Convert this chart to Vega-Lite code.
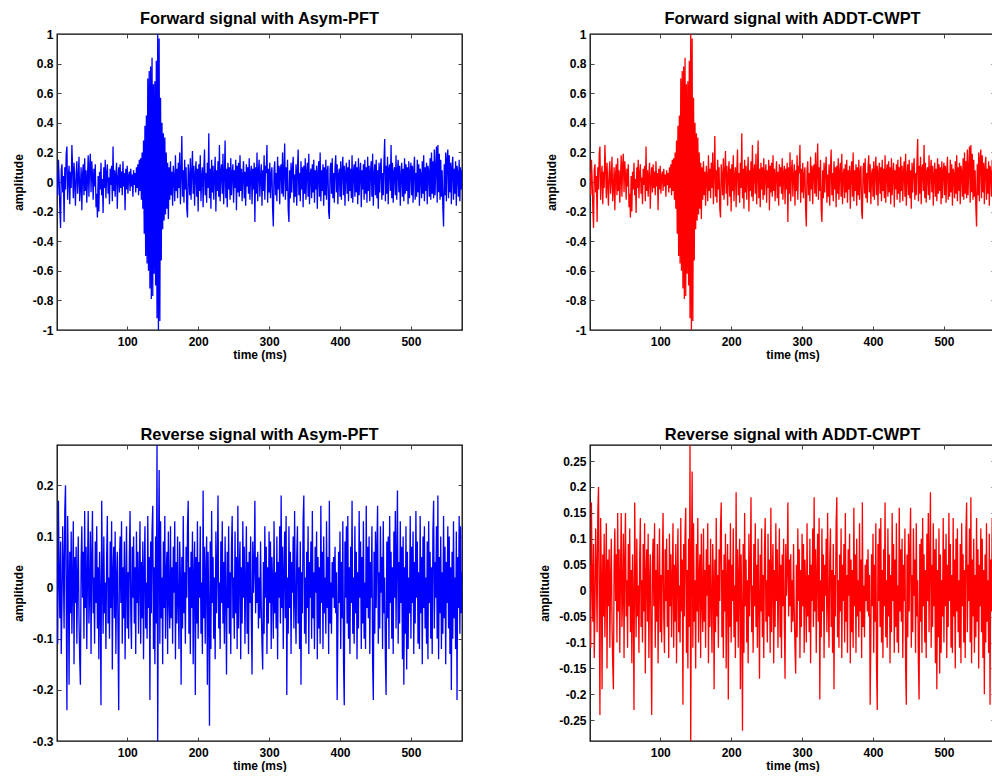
{
"$schema":"https://vega.github.io/schema/vega-lite/v6.json",
"padding":{"left":11,"top":9,"right":0,"bottom":0},
"background":"white",
"data":{"values":[
{"t":1,"f":0.06,"r":0.05},{"t":2,"f":-0.09,"r":-0.11},{"t":3,"f":0.15,"r":0.17},{"t":4,"f":0.02,"r":0.02},{"t":5,"f":-0.18,"r":-0.06},{"t":6,"f":-0.31,"r":0.09},{"t":7,"f":0.08,"r":-0.13},{"t":8,"f":0.12,"r":-0.03},{"t":9,"f":-0.07,"r":0.12},{"t":10,"f":0.04,"r":0.04},
{"t":11,"f":-0.27,"r":-0.08},{"t":12,"f":0.1,"r":0.15},{"t":13,"f":-0.05,"r":0.2},{"t":14,"f":0.19,"r":-0.02},{"t":15,"f":0.24,"r":-0.24},{"t":16,"f":-0.12,"r":0.14},{"t":17,"f":0.03,"r":0.03},{"t":18,"f":0.11,"r":-0.19},{"t":19,"f":-0.15,"r":0.07},{"t":20,"f":0.07,"r":-0.05},
{"t":21,"f":-0.04,"r":0.11},{"t":22,"f":0.25,"r":-0.09},{"t":23,"f":0.09,"r":0.01},{"t":24,"f":-0.11,"r":0.13},{"t":25,"f":0.13,"r":-0.15},{"t":26,"f":-0.02,"r":0.06},{"t":27,"f":-0.16,"r":-0.03},{"t":28,"f":0.06,"r":0.08},{"t":29,"f":0.14,"r":-0.11},{"t":30,"f":-0.08,"r":0.02},
{"t":31,"f":0.02,"r":0.1},{"t":32,"f":0.17,"r":-0.06},{"t":33,"f":-0.13,"r":-0.14},{"t":34,"f":-0.04,"r":-0.19},{"t":35,"f":0.1,"r":0.05},{"t":36,"f":-0.19,"r":0.12},{"t":37,"f":0.05,"r":-0.02},{"t":38,"f":0.12,"r":0.07},{"t":39,"f":-0.09,"r":-0.1},{"t":40,"f":0.16,"r":0.15},
{"t":41,"f":-0.06,"r":-0.04},{"t":42,"f":0.08,"r":0.08},{"t":43,"f":-0.14,"r":-0.12},{"t":44,"f":0.03,"r":0.03},{"t":45,"f":0.18,"r":0.15},{"t":46,"f":-0.1,"r":-0.07},{"t":47,"f":0.11,"r":-0.01},{"t":48,"f":0.19,"r":0.11},{"t":49,"f":-0.07,"r":-0.13},{"t":50,"f":0.14,"r":0.06},
{"t":51,"f":0.05,"r":0.15},{"t":52,"f":-0.12,"r":-0.05},{"t":53,"f":0.09,"r":0.02},{"t":54,"f":-0.03,"r":-0.11},{"t":55,"f":0.12,"r":0.09},{"t":56,"f":-0.17,"r":-0.03},{"t":57,"f":-0.08,"r":0.12},{"t":58,"f":-0.24,"r":-0.08},{"t":59,"f":0.04,"r":0.04},{"t":60,"f":-0.2,"r":-0.14},
{"t":61,"f":0.07,"r":0.07},{"t":62,"f":-0.05,"r":-0.02},{"t":63,"f":0.13,"r":-0.23},{"t":64,"f":-0.09,"r":0.17},{"t":65,"f":0.02,"r":0.03},{"t":66,"f":-0.21,"r":-0.09},{"t":67,"f":0.1,"r":0.1},{"t":68,"f":-0.04,"r":-0.05},{"t":69,"f":0.15,"r":0.01},{"t":70,"f":-0.11,"r":-0.12},
{"t":71,"f":0.06,"r":0.06},{"t":72,"f":0.12,"r":0.14},{"t":73,"f":-0.08,"r":-0.07},{"t":74,"f":0.03,"r":0.02},{"t":75,"f":-0.15,"r":-0.1},{"t":76,"f":0.09,"r":0.09},{"t":77,"f":-0.02,"r":-0.04},{"t":78,"f":0.11,"r":0.13},{"t":79,"f":-0.13,"r":-0.16},{"t":80,"f":0.24,"r":0.03},
{"t":81,"f":-0.06,"r":0.08},{"t":82,"f":0.08,"r":-0.06},{"t":83,"f":-0.1,"r":0.11},{"t":84,"f":0.05,"r":-0.13},{"t":85,"f":0.13,"r":0.02},{"t":86,"f":-0.18,"r":0.07},{"t":87,"f":0.02,"r":-0.09},{"t":88,"f":0.1,"r":-0.24},{"t":89,"f":-0.07,"r":0.05},{"t":90,"f":0.12,"r":0.1},
{"t":91,"f":-0.04,"r":-0.03},{"t":92,"f":0.07,"r":0.13},{"t":93,"f":-0.09,"r":-0.11},{"t":94,"f":0.14,"r":0.04},{"t":95,"f":-0.03,"r":-0.06},{"t":96,"f":0.06,"r":0.09},{"t":97,"f":-0.19,"r":-0.14},{"t":98,"f":0.09,"r":0.01},{"t":99,"f":-0.05,"r":0.12},{"t":100,"f":0.11,"r":-0.08},
{"t":101,"f":-0.08,"r":0.03},{"t":102,"f":0.04,"r":-0.1},{"t":103,"f":0.07,"r":0.06},{"t":104,"f":-0.06,"r":0.15},{"t":105,"f":0.09,"r":-0.05},{"t":106,"f":-0.03,"r":-0.12},{"t":107,"f":0.05,"r":0.08},{"t":108,"f":-0.1,"r":-0.02},{"t":109,"f":0.08,"r":0.1},{"t":110,"f":-0.02,"r":-0.07},
{"t":111,"f":0.06,"r":0.04},{"t":112,"f":-0.07,"r":-0.13},{"t":113,"f":0.1,"r":0.11},{"t":114,"f":-0.04,"r":-0.03},{"t":115,"f":0.12,"r":0.07},{"t":116,"f":-0.09,"r":-0.09},{"t":117,"f":0.15,"r":0.02},{"t":118,"f":-0.06,"r":0.13},{"t":119,"f":0.16,"r":-0.11},{"t":120,"f":-0.12,"r":0.05},
{"t":121,"f":0.2,"r":-0.06},{"t":122,"f":-0.18,"r":0.09},{"t":123,"f":0.28,"r":-0.14},{"t":124,"f":-0.35,"r":0.03},{"t":125,"f":0.38,"r":0.12},{"t":126,"f":-0.5,"r":-0.08},{"t":127,"f":0.45,"r":0.01},{"t":128,"f":-0.55,"r":-0.1},{"t":129,"f":0.7,"r":0.14},{"t":130,"f":-0.6,"r":-0.04},
{"t":131,"f":0.75,"r":0.06},{"t":132,"f":-0.72,"r":-0.22},{"t":133,"f":0.78,"r":0.09},{"t":134,"f":-0.79,"r":-0.05},{"t":135,"f":0.84,"r":0.11},{"t":136,"f":-0.77,"r":0.16},{"t":137,"f":0.66,"r":-0.12},{"t":138,"f":-0.62,"r":0.04},{"t":139,"f":0.68,"r":-0.15},{"t":140,"f":-0.7,"r":0.1},
{"t":141,"f":0.82,"r":-0.07},{"t":142,"f":-0.92,"r":0.28},{"t":143,"f":1.0,"r":-0.3},{"t":144,"f":-1.0,"r":0.05},{"t":145,"f":0.97,"r":0.23},{"t":146,"f":-0.94,"r":-0.11},{"t":147,"f":0.57,"r":0.13},{"t":148,"f":-0.53,"r":-0.06},{"t":149,"f":0.4,"r":0.02},{"t":150,"f":-0.32,"r":-0.15},
{"t":151,"f":0.33,"r":0.09},{"t":152,"f":-0.26,"r":-0.04},{"t":153,"f":0.3,"r":0.14},{"t":154,"f":-0.22,"r":-0.1},{"t":155,"f":0.2,"r":0.03},{"t":156,"f":-0.18,"r":0.07},{"t":157,"f":0.13,"r":-0.13},{"t":158,"f":-0.25,"r":0.11},{"t":159,"f":0.1,"r":-0.02},{"t":160,"f":-0.12,"r":-0.08},
{"t":161,"f":0.14,"r":0.12},{"t":162,"f":-0.09,"r":-0.06},{"t":163,"f":0.07,"r":0.04},{"t":164,"f":-0.16,"r":-0.11},{"t":165,"f":0.11,"r":0.08},{"t":166,"f":0.03,"r":-0.01},{"t":167,"f":-0.13,"r":0.13},{"t":168,"f":0.18,"r":-0.14},{"t":169,"f":-0.06,"r":0.05},{"t":170,"f":0.09,"r":-0.07},
{"t":171,"f":-0.11,"r":0.1},{"t":172,"f":0.13,"r":-0.03},{"t":173,"f":-0.04,"r":-0.12},{"t":174,"f":0.2,"r":0.09},{"t":175,"f":-0.15,"r":0.02},{"t":176,"f":0.06,"r":-0.19},{"t":177,"f":0.31,"r":0.06},{"t":178,"f":-0.1,"r":-0.08},{"t":179,"f":0.08,"r":0.14},{"t":180,"f":-0.14,"r":-0.05},
{"t":181,"f":0.15,"r":0.03},{"t":182,"f":-0.05,"r":-0.11},{"t":183,"f":0.1,"r":0.08},{"t":184,"f":-0.18,"r":-0.02},{"t":185,"f":-0.24,"r":0.12},{"t":186,"f":0.12,"r":0.17},{"t":187,"f":0.04,"r":-0.09},{"t":188,"f":-0.09,"r":0.04},{"t":189,"f":0.16,"r":-0.13},{"t":190,"f":-0.12,"r":0.07},
{"t":191,"f":0.07,"r":-0.04},{"t":192,"f":0.21,"r":0.11},{"t":193,"f":-0.08,"r":-0.15},{"t":194,"f":0.11,"r":0.02},{"t":195,"f":-0.16,"r":0.09},{"t":196,"f":0.05,"r":-0.21},{"t":197,"f":0.14,"r":0.06},{"t":198,"f":-0.1,"r":-0.07},{"t":199,"f":0.09,"r":0.13},{"t":200,"f":-0.2,"r":-0.1},
{"t":201,"f":0.12,"r":0.05},{"t":202,"f":-0.06,"r":-0.02},{"t":203,"f":0.18,"r":0.12},{"t":204,"f":-0.13,"r":-0.09},{"t":205,"f":0.04,"r":0.01},{"t":206,"f":0.1,"r":-0.13},{"t":207,"f":-0.17,"r":0.19},{"t":208,"f":0.08,"r":-0.06},{"t":209,"f":0.22,"r":0.08},{"t":210,"f":-0.09,"r":-0.11},
{"t":211,"f":0.06,"r":0.03},{"t":212,"f":-0.14,"r":0.1},{"t":213,"f":0.13,"r":-0.19},{"t":214,"f":-0.04,"r":0.07},{"t":215,"f":0.33,"r":-0.04},{"t":216,"f":-0.11,"r":-0.27},{"t":217,"f":0.09,"r":0.09},{"t":218,"f":-0.18,"r":-0.12},{"t":219,"f":0.15,"r":0.15},{"t":220,"f":-0.07,"r":-0.03},
{"t":221,"f":0.11,"r":0.06},{"t":222,"f":-0.12,"r":-0.1},{"t":223,"f":0.05,"r":0.02},{"t":224,"f":0.17,"r":-0.14},{"t":225,"f":-0.2,"r":0.11},{"t":226,"f":0.08,"r":-0.05},{"t":227,"f":-0.06,"r":0.04},{"t":228,"f":0.14,"r":0.18},{"t":229,"f":-0.1,"r":-0.08},{"t":230,"f":0.25,"r":0.01},
{"t":231,"f":-0.13,"r":-0.12},{"t":232,"f":0.07,"r":0.09},{"t":233,"f":0.12,"r":-0.03},{"t":234,"f":-0.08,"r":0.13},{"t":235,"f":0.19,"r":-0.07},{"t":236,"f":-0.15,"r":0.05},{"t":237,"f":0.04,"r":-0.11},{"t":238,"f":0.28,"r":0.1},{"t":239,"f":-0.11,"r":-0.02},{"t":240,"f":0.09,"r":-0.17},
{"t":241,"f":-0.17,"r":0.07},{"t":242,"f":0.13,"r":-0.04},{"t":243,"f":-0.05,"r":0.12},{"t":244,"f":0.1,"r":-0.09},{"t":245,"f":-0.12,"r":0.03},{"t":246,"f":0.16,"r":-0.13},{"t":247,"f":-0.09,"r":0.08},{"t":248,"f":0.06,"r":0.14},{"t":249,"f":0.12,"r":-0.06},{"t":250,"f":-0.14,"r":0.02},
{"t":251,"f":0.08,"r":-0.1},{"t":252,"f":-0.04,"r":0.11},{"t":253,"f":0.15,"r":-0.05},{"t":254,"f":-0.19,"r":0.06},{"t":255,"f":0.11,"r":-0.12},{"t":256,"f":-0.07,"r":0.16},{"t":257,"f":0.13,"r":-0.08},{"t":258,"f":-0.1,"r":0.03},{"t":259,"f":0.18,"r":0.09},{"t":260,"f":-0.06,"r":-0.14},
{"t":261,"f":0.09,"r":0.04},{"t":262,"f":-0.13,"r":-0.07},{"t":263,"f":0.05,"r":0.13},{"t":264,"f":0.14,"r":-0.02},{"t":265,"f":-0.11,"r":0.08},{"t":266,"f":0.07,"r":-0.11},{"t":267,"f":-0.16,"r":0.01},{"t":268,"f":0.12,"r":0.12},{"t":269,"f":-0.03,"r":-0.09},{"t":270,"f":0.1,"r":0.05},
{"t":271,"f":-0.08,"r":-0.13},{"t":272,"f":0.16,"r":0.07},{"t":273,"f":-0.12,"r":-0.03},{"t":274,"f":0.06,"r":0.1},{"t":275,"f":0.11,"r":-0.06},{"t":276,"f":-0.15,"r":-0.17},{"t":277,"f":0.09,"r":0.09},{"t":278,"f":-0.05,"r":-0.01},{"t":279,"f":0.13,"r":0.04},{"t":280,"f":-0.27,"r":0.17},
{"t":281,"f":0.1,"r":-0.05},{"t":282,"f":-0.08,"r":0.06},{"t":283,"f":0.2,"r":-0.03},{"t":284,"f":-0.13,"r":0.07},{"t":285,"f":0.07,"r":-0.08},{"t":286,"f":0.15,"r":0.02},{"t":287,"f":-0.1,"r":-0.06},{"t":288,"f":0.04,"r":0.09},{"t":289,"f":0.12,"r":-0.04},{"t":290,"f":-0.16,"r":-0.11},
{"t":291,"f":0.08,"r":-0.16},{"t":292,"f":-0.06,"r":0.05},{"t":293,"f":0.18,"r":-0.09},{"t":294,"f":-0.12,"r":0.12},{"t":295,"f":0.11,"r":-0.02},{"t":296,"f":0.06,"r":0.08},{"t":297,"f":0.25,"r":-0.13},{"t":298,"f":-0.14,"r":0.04},{"t":299,"f":0.09,"r":-0.07},{"t":300,"f":-0.07,"r":0.11},
{"t":301,"f":0.13,"r":-0.03},{"t":302,"f":-0.11,"r":0.09},{"t":303,"f":0.05,"r":-0.12},{"t":304,"f":0.1,"r":0.06},{"t":305,"f":-0.18,"r":0.01},{"t":306,"f":-0.3,"r":-0.1},{"t":307,"f":0.08,"r":0.13},{"t":308,"f":0.14,"r":-0.05},{"t":309,"f":-0.09,"r":0.03},{"t":310,"f":0.06,"r":-0.08},
{"t":311,"f":-0.13,"r":0.1},{"t":312,"f":0.17,"r":-0.14},{"t":313,"f":-0.05,"r":0.05},{"t":314,"f":0.11,"r":-0.02},{"t":315,"f":-0.15,"r":0.12},{"t":316,"f":0.09,"r":-0.07},{"t":317,"f":0.12,"r":0.18},{"t":318,"f":-0.08,"r":-0.04},{"t":319,"f":0.2,"r":0.08},{"t":320,"f":-0.1,"r":-0.12},
{"t":321,"f":0.07,"r":0.03},{"t":322,"f":0.26,"r":0.11},{"t":323,"f":-0.12,"r":-0.06},{"t":324,"f":0.1,"r":0.14},{"t":325,"f":-0.06,"r":-0.21},{"t":326,"f":0.15,"r":0.02},{"t":327,"f":-0.19,"r":-0.09},{"t":328,"f":-0.27,"r":0.12},{"t":329,"f":0.08,"r":-0.04},{"t":330,"f":-0.11,"r":0.07},
{"t":331,"f":0.13,"r":-0.13},{"t":332,"f":-0.07,"r":0.05},{"t":333,"f":0.09,"r":-0.01},{"t":334,"f":0.17,"r":0.1},{"t":335,"f":-0.14,"r":-0.08},{"t":336,"f":0.05,"r":0.15},{"t":337,"f":-0.1,"r":-0.03},{"t":338,"f":0.12,"r":-0.11},{"t":339,"f":-0.16,"r":0.06},{"t":340,"f":0.08,"r":0.12},
{"t":341,"f":0.22,"r":-0.07},{"t":342,"f":-0.09,"r":0.04},{"t":343,"f":0.06,"r":-0.12},{"t":344,"f":-0.13,"r":0.09},{"t":345,"f":0.14,"r":-0.19},{"t":346,"f":-0.05,"r":0.03},{"t":347,"f":0.1,"r":-0.05},{"t":348,"f":-0.17,"r":0.13},{"t":349,"f":0.11,"r":0.18},{"t":350,"f":-0.08,"r":-0.09},
{"t":351,"f":0.16,"r":0.02},{"t":352,"f":-0.12,"r":-0.11},{"t":353,"f":0.07,"r":0.07},{"t":354,"f":0.13,"r":-0.04},{"t":355,"f":-0.1,"r":0.12},{"t":356,"f":0.19,"r":-0.13},{"t":357,"f":-0.15,"r":0.05},{"t":358,"f":0.05,"r":-0.02},{"t":359,"f":0.09,"r":0.09},{"t":360,"f":-0.11,"r":-0.1},
{"t":361,"f":0.12,"r":0.15},{"t":362,"f":-0.07,"r":-0.06},{"t":363,"f":0.15,"r":0.03},{"t":364,"f":-0.14,"r":-0.12},{"t":365,"f":0.08,"r":0.08},{"t":366,"f":-0.05,"r":-0.01},{"t":367,"f":0.11,"r":0.11},{"t":368,"f":-0.18,"r":-0.14},{"t":369,"f":0.06,"r":0.06},{"t":370,"f":0.14,"r":-0.08},
{"t":371,"f":-0.1,"r":0.04},{"t":372,"f":0.2,"r":-0.11},{"t":373,"f":-0.13,"r":0.16},{"t":374,"f":0.08,"r":-0.03},{"t":375,"f":-0.06,"r":0.07},{"t":376,"f":0.12,"r":-0.12},{"t":377,"f":-0.16,"r":0.1},{"t":378,"f":0.1,"r":-0.05},{"t":379,"f":-0.09,"r":0.02},{"t":380,"f":0.15,"r":-0.09},
{"t":381,"f":-0.12,"r":0.13},{"t":382,"f":0.07,"r":-0.04},{"t":383,"f":0.11,"r":0.06},{"t":384,"f":-0.2,"r":-0.13},{"t":385,"f":-0.25,"r":0.17},{"t":386,"f":0.09,"r":-0.07},{"t":387,"f":0.13,"r":0.01},{"t":388,"f":-0.08,"r":-0.09},{"t":389,"f":0.16,"r":0.05},{"t":390,"f":-0.11,"r":-0.02},
{"t":391,"f":0.06,"r":0.06},{"t":392,"f":-0.14,"r":-0.04},{"t":393,"f":0.1,"r":0.08},{"t":394,"f":0.18,"r":-0.05},{"t":395,"f":-0.07,"r":0.03},{"t":396,"f":0.12,"r":-0.22},{"t":397,"f":-0.15,"r":-0.08},{"t":398,"f":0.05,"r":0.07},{"t":399,"f":0.09,"r":-0.03},{"t":400,"f":-0.1,"r":0.11},
{"t":401,"f":0.14,"r":-0.12},{"t":402,"f":-0.12,"r":0.05},{"t":403,"f":0.08,"r":-0.06},{"t":404,"f":0.17,"r":0.13},{"t":405,"f":-0.09,"r":-0.15},{"t":406,"f":0.11,"r":-0.23},{"t":407,"f":-0.16,"r":0.09},{"t":408,"f":0.06,"r":-0.02},{"t":409,"f":0.13,"r":0.12},{"t":410,"f":-0.08,"r":-0.07},
{"t":411,"f":0.1,"r":0.14},{"t":412,"f":-0.13,"r":-0.1},{"t":413,"f":0.15,"r":0.04},{"t":414,"f":-0.06,"r":-0.13},{"t":415,"f":0.09,"r":0.08},{"t":416,"f":-0.11,"r":-0.03},{"t":417,"f":0.18,"r":0.17},{"t":418,"f":-0.14,"r":-0.09},{"t":419,"f":0.07,"r":0.02},{"t":420,"f":0.12,"r":-0.11},
{"t":421,"f":-0.1,"r":0.12},{"t":422,"f":0.14,"r":-0.05},{"t":423,"f":-0.07,"r":0.07},{"t":424,"f":0.1,"r":-0.14},{"t":425,"f":-0.15,"r":0.03},{"t":426,"f":0.16,"r":-0.08},{"t":427,"f":-0.09,"r":0.15},{"t":428,"f":0.06,"r":-0.02},{"t":429,"f":0.13,"r":0.09},{"t":430,"f":-0.17,"r":-0.12},
{"t":431,"f":0.08,"r":0.06},{"t":432,"f":-0.05,"r":-0.07},{"t":433,"f":0.12,"r":0.13},{"t":434,"f":-0.12,"r":-0.1},{"t":435,"f":0.15,"r":0.01},{"t":436,"f":-0.08,"r":-0.12},{"t":437,"f":0.1,"r":0.16},{"t":438,"f":-0.14,"r":-0.04},{"t":439,"f":0.17,"r":0.08},{"t":440,"f":-0.06,"r":-0.06},
{"t":441,"f":0.11,"r":0.1},{"t":442,"f":-0.13,"r":-0.13},{"t":443,"f":0.07,"r":0.05},{"t":444,"f":0.14,"r":-0.02},{"t":445,"f":-0.1,"r":0.12},{"t":446,"f":0.19,"r":-0.15},{"t":447,"f":-0.16,"r":-0.22},{"t":448,"f":0.05,"r":0.07},{"t":449,"f":0.12,"r":-0.09},{"t":450,"f":-0.09,"r":0.11},
{"t":451,"f":0.15,"r":-0.04},{"t":452,"f":-0.11,"r":0.08},{"t":453,"f":0.08,"r":0.16},{"t":454,"f":-0.18,"r":-0.11},{"t":455,"f":0.13,"r":0.03},{"t":456,"f":-0.07,"r":-0.08},{"t":457,"f":0.1,"r":0.12},{"t":458,"f":0.16,"r":-0.01},{"t":459,"f":-0.12,"r":0.06},{"t":460,"f":0.06,"r":-0.12},
{"t":461,"f":-0.09,"r":0.13},{"t":462,"f":0.14,"r":-0.05},{"t":463,"f":0.29,"r":0.02},{"t":464,"f":-0.13,"r":-0.14},{"t":465,"f":0.11,"r":-0.21},{"t":466,"f":-0.08,"r":0.09},{"t":467,"f":0.17,"r":-0.06},{"t":468,"f":-0.15,"r":0.1},{"t":469,"f":0.09,"r":-0.12},{"t":470,"f":0.12,"r":0.14},
{"t":471,"f":-0.06,"r":-0.03},{"t":472,"f":0.25,"r":0.07},{"t":473,"f":-0.11,"r":-0.1},{"t":474,"f":0.13,"r":0.04},{"t":475,"f":-0.14,"r":-0.13},{"t":476,"f":0.07,"r":0.11},{"t":477,"f":0.1,"r":-0.02},{"t":478,"f":-0.09,"r":0.15},{"t":479,"f":0.18,"r":-0.08},{"t":480,"f":-0.12,"r":0.06},
{"t":481,"f":0.08,"r":0.19},{"t":482,"f":0.15,"r":-0.11},{"t":483,"f":-0.07,"r":0.05},{"t":484,"f":0.11,"r":-0.07},{"t":485,"f":-0.16,"r":0.13},{"t":486,"f":0.05,"r":-0.03},{"t":487,"f":0.13,"r":0.08},{"t":488,"f":-0.1,"r":-0.14},{"t":489,"f":0.09,"r":0.1},{"t":490,"f":-0.13,"r":-0.19},
{"t":491,"f":0.16,"r":0.04},{"t":492,"f":-0.08,"r":-0.09},{"t":493,"f":0.12,"r":0.12},{"t":494,"f":-0.06,"r":-0.16},{"t":495,"f":0.1,"r":0.07},{"t":496,"f":-0.15,"r":-0.12},{"t":497,"f":0.14,"r":0.02},{"t":498,"f":-0.11,"r":-0.05},{"t":499,"f":0.07,"r":0.14},{"t":500,"f":0.13,"r":-0.1},
{"t":501,"f":-0.09,"r":0.08},{"t":502,"f":0.11,"r":-0.03},{"t":503,"f":-0.14,"r":0.11},{"t":504,"f":0.08,"r":-0.13},{"t":505,"f":0.17,"r":0.05},{"t":506,"f":-0.12,"r":-0.07},{"t":507,"f":0.06,"r":0.15},{"t":508,"f":-0.1,"r":-0.02},{"t":509,"f":0.15,"r":0.09},{"t":510,"f":-0.07,"r":-0.11},
{"t":511,"f":0.12,"r":0.03},{"t":512,"f":-0.16,"r":-0.12},{"t":513,"f":0.09,"r":0.14},{"t":514,"f":0.05,"r":-0.05},{"t":515,"f":-0.11,"r":0.06},{"t":516,"f":0.14,"r":-0.15},{"t":517,"f":-0.08,"r":0.1},{"t":518,"f":0.18,"r":-0.04},{"t":519,"f":-0.13,"r":0.12},{"t":520,"f":0.1,"r":-0.08},
{"t":521,"f":-0.06,"r":0.02},{"t":522,"f":0.13,"r":-0.11},{"t":523,"f":-0.15,"r":0.09},{"t":524,"f":0.11,"r":-0.14},{"t":525,"f":0.07,"r":0.13},{"t":526,"f":-0.1,"r":-0.03},{"t":527,"f":0.16,"r":0.07},{"t":528,"f":-0.12,"r":-0.1},{"t":529,"f":0.2,"r":0.04},{"t":530,"f":-0.08,"r":-0.13},
{"t":531,"f":0.14,"r":0.11},{"t":532,"f":-0.11,"r":0.17},{"t":533,"f":0.22,"r":-0.08},{"t":534,"f":-0.09,"r":0.05},{"t":535,"f":0.1,"r":-0.02},{"t":536,"f":0.24,"r":0.12},{"t":537,"f":-0.14,"r":-0.1},{"t":538,"f":0.25,"r":0.18},{"t":539,"f":-0.07,"r":-0.14},{"t":540,"f":0.19,"r":0.06},
{"t":541,"f":-0.12,"r":-0.05},{"t":542,"f":0.15,"r":0.1},{"t":543,"f":-0.1,"r":-0.12},{"t":544,"f":0.08,"r":0.03},{"t":545,"f":-0.17,"r":-0.09},{"t":546,"f":-0.3,"r":0.14},{"t":547,"f":0.12,"r":-0.06},{"t":548,"f":-0.09,"r":0.08},{"t":549,"f":0.2,"r":-0.15},{"t":550,"f":-0.13,"r":0.05},
{"t":551,"f":0.16,"r":-0.03},{"t":552,"f":0.22,"r":0.12},{"t":553,"f":-0.11,"r":-0.08},{"t":554,"f":0.18,"r":0.1},{"t":555,"f":-0.07,"r":-0.13},{"t":556,"f":0.13,"r":0.04},{"t":557,"f":-0.15,"r":-0.2},{"t":558,"f":0.1,"r":0.07},{"t":559,"f":0.17,"r":-0.1},{"t":560,"f":-0.12,"r":0.13},
{"t":561,"f":0.09,"r":-0.06},{"t":562,"f":-0.08,"r":0.02},{"t":563,"f":0.14,"r":-0.12},{"t":564,"f":-0.16,"r":0.11},{"t":565,"f":0.11,"r":-0.22},{"t":566,"f":0.06,"r":0.06},{"t":567,"f":-0.1,"r":-0.04},{"t":568,"f":0.15,"r":0.14},{"t":569,"f":-0.13,"r":-0.09},{"t":570,"f":0.1,"r":0.12},
{"t":571,"f":-0.05,"r":-0.05},{"t":572,"f":0.08,"r":0.03}
]},
"config":{
  "font":"Liberation Sans",
  "view":{"stroke":"#000000","strokeWidth":1.3},
  "axis":{"grid":false,"domain":false,"tickColor":"#444444","tickSize":-4,"tickWidth":1,
          "labelFont":"Liberation Sans","labelFontSize":12,"labelFontWeight":"bold","labelColor":"#000000",
          "titleFont":"Liberation Sans","titleFontSize":12,"titleFontWeight":"bold","titleColor":"#000000",
          "labelOverlap":false,"labelFlush":false},
  "axisX":{"labelPadding":10.5,"titleY":28,"titleBaseline":"alphabetic"},
  "axisY":{"labelPadding":8,"titleX":-39,"titleY":148,"titleBaseline":"middle","titleAlign":"center","titleAngle":270},
  "title":{"font":"Liberation Sans","fontSize":16.4,"fontWeight":"bold","color":"#000000","anchor":"middle","baseline":"alphabetic","offset":1}
},
"columns":2,
"spacing":{"row":115,"column":128},
"bounds":"flush",
"concat":[
 {"width":405,"height":296,"title":"Forward signal with Asym-PFT",
  "layer":[
   {"mark":{"type":"line","color":"#0000ff","strokeWidth":1.3,"clip":true},
    "encoding":{
     "x":{"field":"t","type":"quantitative","scale":{"domain":[1,572],"nice":false,"zero":false},"axis":{"orient":"bottom","values":[100,200,300,400,500],"title":"time (ms)"}},
     "y":{"field":"f","type":"quantitative","scale":{"domain":[-1,1],"nice":false,"zero":false},"axis":{"orient":"left","values":[-1,-0.8,-0.6,-0.4,-0.2,0,0.2,0.4,0.6,0.8,1],"labelExpr":"'' + datum.value","title":"amplitude"}}}},
   {"mark":{"type":"line","opacity":0,"clip":true},
    "encoding":{
     "x":{"field":"t","type":"quantitative","axis":{"orient":"top","values":[100,200,300,400,500],"labels":false,"title":null}},
     "y":{"field":"f","type":"quantitative","axis":{"orient":"right","values":[-1,-0.8,-0.6,-0.4,-0.2,0,0.2,0.4,0.6,0.8,1],"labels":false,"title":null}}}}
  ],
  "resolve":{"axis":{"x":"independent","y":"independent"}}},
 {"width":405,"height":296,"title":"Forward signal with ADDT-CWPT",
  "layer":[
   {"mark":{"type":"line","color":"#ff0000","strokeWidth":1.3,"clip":true},
    "encoding":{
     "x":{"field":"t","type":"quantitative","scale":{"domain":[1,572],"nice":false,"zero":false},"axis":{"orient":"bottom","values":[100,200,300,400,500],"title":"time (ms)"}},
     "y":{"field":"f","type":"quantitative","scale":{"domain":[-1,1],"nice":false,"zero":false},"axis":{"orient":"left","values":[-1,-0.8,-0.6,-0.4,-0.2,0,0.2,0.4,0.6,0.8,1],"labelExpr":"'' + datum.value","title":"amplitude"}}}},
   {"mark":{"type":"line","opacity":0,"clip":true},
    "encoding":{
     "x":{"field":"t","type":"quantitative","axis":{"orient":"top","values":[100,200,300,400,500],"labels":false,"title":null}},
     "y":{"field":"f","type":"quantitative","axis":{"orient":"right","values":[-1,-0.8,-0.6,-0.4,-0.2,0,0.2,0.4,0.6,0.8,1],"labels":false,"title":null}}}}
  ],
  "resolve":{"axis":{"x":"independent","y":"independent"}}},
 {"width":405,"height":296,"title":"Reverse signal with Asym-PFT",
  "layer":[
   {"mark":{"type":"line","color":"#0000ff","strokeWidth":1.3,"clip":true},
    "encoding":{
     "x":{"field":"t","type":"quantitative","scale":{"domain":[1,572],"nice":false,"zero":false},"axis":{"orient":"bottom","values":[100,200,300,400,500],"title":"time (ms)"}},
     "y":{"field":"r","type":"quantitative","scale":{"domain":[-0.3,0.279],"nice":false,"zero":false},"axis":{"orient":"left","values":[-0.3,-0.2,-0.1,0,0.1,0.2],"labelExpr":"'' + datum.value","title":"amplitude"}}}},
   {"mark":{"type":"line","opacity":0,"clip":true},
    "encoding":{
     "x":{"field":"t","type":"quantitative","axis":{"orient":"top","values":[100,200,300,400,500],"labels":false,"title":null}},
     "y":{"field":"r","type":"quantitative","axis":{"orient":"right","values":[-0.3,-0.2,-0.1,0,0.1,0.2],"labels":false,"title":null}}}}
  ],
  "resolve":{"axis":{"x":"independent","y":"independent"}}},
 {"width":405,"height":296,"title":"Reverse signal with ADDT-CWPT",
  "layer":[
   {"mark":{"type":"line","color":"#ff0000","strokeWidth":1.3,"clip":true},
    "encoding":{
     "x":{"field":"t","type":"quantitative","scale":{"domain":[1,572],"nice":false,"zero":false},"axis":{"orient":"bottom","values":[100,200,300,400,500],"title":"time (ms)"}},
     "y":{"field":"r","type":"quantitative","scale":{"domain":[-0.29,0.281],"nice":false,"zero":false},"axis":{"orient":"left","values":[-0.25,-0.2,-0.15,-0.1,-0.05,0,0.05,0.1,0.15,0.2,0.25],"labelExpr":"'' + datum.value","title":"amplitude","titleX":-46}}}},
   {"mark":{"type":"line","opacity":0,"clip":true},
    "encoding":{
     "x":{"field":"t","type":"quantitative","axis":{"orient":"top","values":[100,200,300,400,500],"labels":false,"title":null}},
     "y":{"field":"r","type":"quantitative","axis":{"orient":"right","values":[-0.25,-0.2,-0.15,-0.1,-0.05,0,0.05,0.1,0.15,0.2,0.25],"labels":false,"title":null}}}}
  ],
  "resolve":{"axis":{"x":"independent","y":"independent"}}}
]
}
